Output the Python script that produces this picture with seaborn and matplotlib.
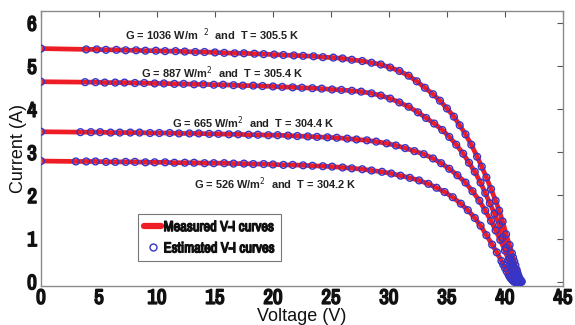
import numpy as np
import pandas as pd
import seaborn as sns
import matplotlib.pyplot as plt
from matplotlib.lines import Line2D
from matplotlib import font_manager
import matplotlib.patheffects as pe

# V-I curves (voltage in V, current in A)
v1 = [0, 3.9, 4.8, 5.6, 6.5, 7.3, 8.2, 9.0, 9.9, 10.7, 11.6, 12.4, 13.3, 14.1, 15.0, 15.8, 16.7, 17.5, 18.4, 19.2,
      20.1, 20.9, 21.8, 22.6, 23.5, 24.3, 25.2, 26.0, 26.8, 27.7, 28.5, 29.3, 30.1, 30.9, 31.7, 32.4, 33.1, 33.8, 34.4, 35.0,
      35.6, 36.1, 36.6, 37.1, 37.6, 38.0, 38.4, 38.8, 39.2, 39.5, 39.8, 40.1, 40.4, 40.6, 40.7, 40.8, 40.9, 41.0, 41.05, 41.1,
      41.15, 41.2, 41.25, 41.3, 41.35, 41.4, 41.45]
i1 = [5.41, 5.39, 5.39, 5.38, 5.38, 5.37, 5.37, 5.36, 5.36, 5.35, 5.35, 5.34, 5.33, 5.33, 5.32, 5.31, 5.30, 5.30, 5.29, 5.28,
      5.27, 5.26, 5.25, 5.24, 5.23, 5.21, 5.20, 5.18, 5.15, 5.12, 5.08, 5.04, 4.97, 4.89, 4.78, 4.65, 4.50, 4.35, 4.20, 4.02,
      3.83, 3.63, 3.42, 3.18, 2.90, 2.67, 2.42, 2.15, 1.88, 1.65, 1.40, 1.10, 0.85, 0.66, 0.56, 0.47, 0.38, 0.28, 0.23, 0.18,
      0.14, 0.10, 0.07, 0.05, 0.03, 0.01, 0.0]

v2 = [0, 3.8, 4.7, 5.5, 6.4, 7.2, 8.1, 8.9, 9.8, 10.6, 11.5, 12.3, 13.2, 14.0, 14.9, 15.7, 16.6, 17.4, 18.3, 19.1,
      20.0, 20.8, 21.7, 22.5, 23.4, 24.2, 25.1, 25.9, 26.8, 27.6, 28.5, 29.3, 30.1, 30.9, 31.7, 32.5, 33.2, 33.9, 34.6, 35.2,
      35.8, 36.4, 36.9, 37.4, 37.9, 38.3, 38.7, 39.1, 39.5, 39.8, 40.1, 40.4, 40.5, 40.6, 40.7, 40.8, 40.9, 41.0, 41.05, 41.1,
      41.15, 41.2, 41.25, 41.3, 41.35]
i2 = [4.64, 4.63, 4.63, 4.62, 4.62, 4.62, 4.61, 4.61, 4.60, 4.60, 4.59, 4.59, 4.58, 4.58, 4.57, 4.57, 4.56, 4.55, 4.55, 4.54,
      4.53, 4.52, 4.51, 4.50, 4.49, 4.48, 4.46, 4.45, 4.43, 4.41, 4.37, 4.32, 4.25, 4.16, 4.06, 3.93, 3.80, 3.67, 3.52, 3.36,
      3.18, 2.97, 2.76, 2.55, 2.30, 2.06, 1.82, 1.58, 1.32, 1.02, 0.78, 0.55, 0.47, 0.40, 0.33, 0.26, 0.19, 0.12, 0.09, 0.06,
      0.04, 0.02, 0.01, 0.0, -0.01]

v3 = [0, 3.4, 4.3, 5.1, 6.0, 6.8, 7.7, 8.5, 9.4, 10.2, 11.1, 11.9, 12.8, 13.6, 14.5, 15.3, 16.2, 17.0, 17.9, 18.7,
      19.6, 20.4, 21.3, 22.1, 23.0, 23.8, 24.7, 25.5, 26.4, 27.2, 28.1, 28.9, 29.8, 30.6, 31.4, 32.2, 33.0, 33.8, 34.5, 35.2,
      35.9, 36.6, 37.2, 37.8, 38.3, 38.8, 39.2, 39.6, 40.0, 40.3, 40.45, 40.6, 40.7, 40.8, 40.9, 41.0, 41.05, 41.1, 41.15, 41.2]
i3 = [3.48, 3.47, 3.47, 3.47, 3.46, 3.46, 3.46, 3.46, 3.45, 3.45, 3.45, 3.44, 3.44, 3.44, 3.43, 3.43, 3.42, 3.42, 3.41, 3.41,
      3.40, 3.40, 3.39, 3.38, 3.37, 3.36, 3.35, 3.34, 3.32, 3.30, 3.28, 3.25, 3.21, 3.16, 3.10, 3.03, 2.96, 2.86, 2.75, 2.62,
      2.47, 2.30, 2.10, 1.88, 1.65, 1.41, 1.19, 0.97, 0.72, 0.50, 0.40, 0.30, 0.23, 0.16, 0.10, 0.05, 0.03, 0.01, 0.0, -0.01]

v4 = [0, 3.0, 3.9, 4.7, 5.6, 6.4, 7.3, 8.1, 9.0, 9.8, 10.7, 11.5, 12.4, 13.2, 14.1, 14.9, 15.8, 16.6, 17.5, 18.3,
      19.2, 20.0, 20.9, 21.7, 22.6, 23.4, 24.3, 25.1, 26.0, 26.8, 27.7, 28.5, 29.4, 30.2, 31.0, 31.8, 32.6, 33.4, 34.1, 34.8,
      35.5, 36.2, 36.8, 37.4, 37.9, 38.4, 38.9, 39.3, 39.7, 39.85, 40.0, 40.15, 40.3, 40.4, 40.5, 40.6, 40.7, 40.8, 40.9, 41.0]
i4 = [2.80, 2.79, 2.79, 2.79, 2.78, 2.78, 2.78, 2.78, 2.77, 2.77, 2.77, 2.76, 2.76, 2.76, 2.75, 2.75, 2.75, 2.74, 2.74, 2.73,
      2.73, 2.72, 2.71, 2.71, 2.70, 2.69, 2.68, 2.67, 2.65, 2.63, 2.61, 2.58, 2.55, 2.51, 2.46, 2.41, 2.35, 2.27, 2.18, 2.08,
      1.96, 1.81, 1.66, 1.48, 1.30, 1.08, 0.86, 0.68, 0.48, 0.40, 0.32, 0.24, 0.17, 0.12, 0.08, 0.05, 0.02, 0.0, -0.01, -0.02]

curve_labels = ["G = 1036 W/m  $^2$  and  T = 305.5 K",
                "G = 887 W/m$^2$  and  T = 305.4 K",
                "G = 665 W/m$^2$  and  T = 304.4 K",
                "G = 526 W/m$^2$  and  T = 304.2 K"]
label_pos = [(7.2, 5.74), (8.6, 4.84), (11.3, 3.70), (13.2, 2.27)]

curves = [(v1, i1), (v2, i2), (v3, i3), (v4, i4)]
df = pd.concat([pd.DataFrame({"V": v, "I": i, "curve": n}) for n, (v, i) in enumerate(curves)],
               ignore_index=True)

sns.set_style("white")

# condensed face for the tick numbers and the legend, if one is installed
names = sorted({f.name for f in font_manager.fontManager.ttflist})
narrow = [n for n in names if "Narrow" in n or "Condensed" in n]
tick_font = narrow[:1] + ["DejaVu Sans"]
# fake a heavy weight with a thin outline in the text colour
heavy = [pe.withStroke(linewidth=1.2, foreground="#111111")]

fig = plt.figure(figsize=(5.75, 3.25), dpi=100)
ax = fig.add_axes([0.0713, 0.12, 0.9077, 0.846])

# measured: thick red line, estimated: open blue circles
for n in range(4):
    sub = df[df["curve"] == n]
    sns.lineplot(data=sub, x="V", y="I", sort=False, estimator=None, color="#ee1c24",
                 linewidth=3.4, ax=ax, zorder=2)
sns.scatterplot(data=df, x="V", y="I", marker="o", s=24, facecolors="none",
                edgecolor="#3535c8", linewidth=1.0, ax=ax, zorder=3)

for txt, (x, y) in zip(curve_labels, label_pos):
    ax.text(x, y, txt, fontsize=7.9, fontweight="bold", color="#222222",
            family=["Liberation Sans", "DejaVu Sans"], ha="left", va="center")

ax.set_xlim(0, 45)
ax.set_ylim(-0.1, 6.28)
ax.set_xticks(range(0, 46, 5))
ax.set_yticks(range(0, 7))
ax.tick_params(direction="in", length=4, width=0.8, color="#555555", top=True, right=True,
               labelsize=15, pad=2, labelcolor="#111111")
ax.tick_params(axis="y", pad=3)
for lab in ax.get_xticklabels() + ax.get_yticklabels():
    lab.set_family(tick_font)
    lab.set_fontweight("bold")
    lab.set_fontstretch("condensed")
    lab.set_path_effects(heavy)
for sp in ax.spines.values():
    sp.set_color("#8a8a8a")
    sp.set_linewidth(1.0)

ax.set_xlabel("Voltage (V)", fontsize=13, family=["Liberation Sans", "DejaVu Sans"], labelpad=0,
              color="#111111")
ax.set_ylabel("Current (A)", fontsize=13, family=["Liberation Sans", "DejaVu Sans"], labelpad=0,
              color="#111111")

handles = [Line2D([], [], color="#ee1c24", linewidth=4.5),
           Line2D([], [], color="#3535c8", marker="o", markersize=5, markerfacecolor="none",
                  linestyle="none", markeredgewidth=1.0)]
leg = ax.legend(handles, ["Measured V-I curves", "Estimated V-I curves"],
                loc="lower left", bbox_to_anchor=(0.186, 0.09), borderaxespad=0,
                frameon=True, fancybox=False,
                prop={"family": tick_font, "weight": "bold", "size": 10.5, "stretch": "condensed"},
                handlelength=1.2, handletextpad=0.15, borderpad=0.4, labelspacing=0.5)
leg.get_frame().set_edgecolor("#555555")
leg.get_frame().set_linewidth(0.8)
for t in leg.get_texts():
    t.set_path_effects([pe.withStroke(linewidth=0.9, foreground="#111111")])
    t.set_color("#111111")

fig.savefig("out.png", dpi=100)
